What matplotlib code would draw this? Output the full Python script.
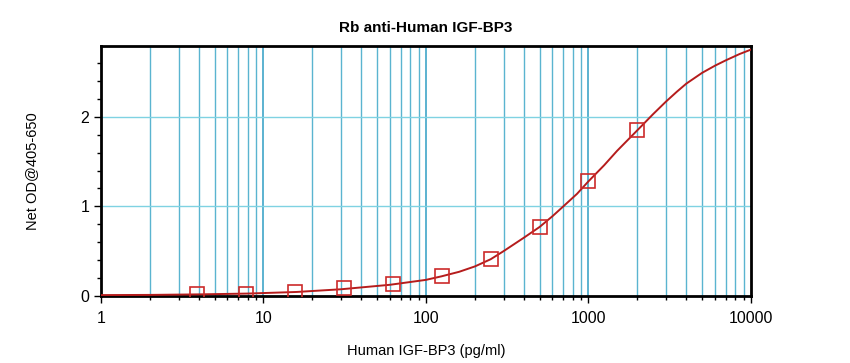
import numpy as np
import matplotlib
matplotlib.use("Agg")
import matplotlib.pyplot as plt
from matplotlib.ticker import LogLocator, MultipleLocator, FixedFormatter, NullFormatter

plt.rcParams['font.family'] = ['Liberation Sans', 'DejaVu Sans']

# standards (pg/ml) and measured OD
conc = [3.9, 7.8, 15.6, 31.25, 62.5, 125, 250, 500, 1000, 2000]
od = [0.02, 0.02, 0.05, 0.085, 0.13, 0.22, 0.41, 0.77, 1.28, 1.85]

# fitted curve
fit_x = [1, 2, 4, 8, 16, 30, 60, 100, 125, 160, 200, 250, 300, 400, 500,
         600, 700, 850, 1000, 1250, 1500, 2000, 2500, 3000, 3500, 4000,
         5000, 6000, 7000, 8500, 10000]
fit_y = [0.01, 0.012, 0.018, 0.027, 0.045, 0.075, 0.125, 0.18, 0.22, 0.27,
         0.33, 0.41, 0.5, 0.65, 0.77, 0.89, 1.0, 1.14, 1.28, 1.46, 1.62,
         1.85, 2.03, 2.17, 2.28, 2.37, 2.49, 2.57, 2.63, 2.70, 2.75]

xticks = [1, 10, 100, 1000, 10000]
xticklabels = ['1', '10', '100', '1000', '10000']
yticks = [0, 1, 2]

fig = plt.figure(figsize=(8.5, 3.63), dpi=100)
ax = fig.add_axes([0.1188, 0.1846, 0.7647, 0.6887])

ax.set_xscale('log')
ax.set_xlim(1, 10000)
ax.set_ylim(0, 2.79)

# grid
for d in [1, 10, 100, 1000]:
    for k in range(2, 10):
        ax.axvline(d * k, color='#5ab4d0', lw=1.0, zorder=1)
    if d > 1:
        ax.axvline(d, color='#3fa6c8', lw=1.2, zorder=1)
for y in [1, 2]:
    ax.axhline(y, color='#7fd2e2', lw=1.0, zorder=1)

ax.plot(fit_x, fit_y, color='#b51c1c', lw=1.4, zorder=3)
ax.plot(conc, od, linestyle='none', marker='s', markersize=9.5,
        markerfacecolor='none', markeredgecolor='#cc2a2a', markeredgewidth=1.2,
        zorder=4)

ax.xaxis.set_major_locator(plt.FixedLocator(xticks))
ax.xaxis.set_major_formatter(FixedFormatter(xticklabels))
ax.xaxis.set_minor_locator(LogLocator(base=10, subs=np.arange(2, 10)))
ax.xaxis.set_minor_formatter(NullFormatter())
ax.set_yticks(yticks)
ax.yaxis.set_minor_locator(MultipleLocator(0.2))

ax.tick_params(axis='both', which='major', direction='out', length=5,
               width=1, labelsize=11.5, colors='black')
ax.tick_params(axis='both', which='minor', direction='out', length=3, width=1)
ax.tick_params(axis='x', pad=6)

for s in ax.spines.values():
    s.set_linewidth(2)
    s.set_color('black')

ax.set_title('Rb anti-Human IGF-BP3', fontsize=11, fontweight='bold', pad=10)
ax.set_xlabel('Human IGF-BP3 (pg/ml)', fontsize=10.5, labelpad=13)
ax.set_ylabel('Net OD@405-650', fontsize=10.5, labelpad=30)

fig.savefig('out.png', dpi=100)
